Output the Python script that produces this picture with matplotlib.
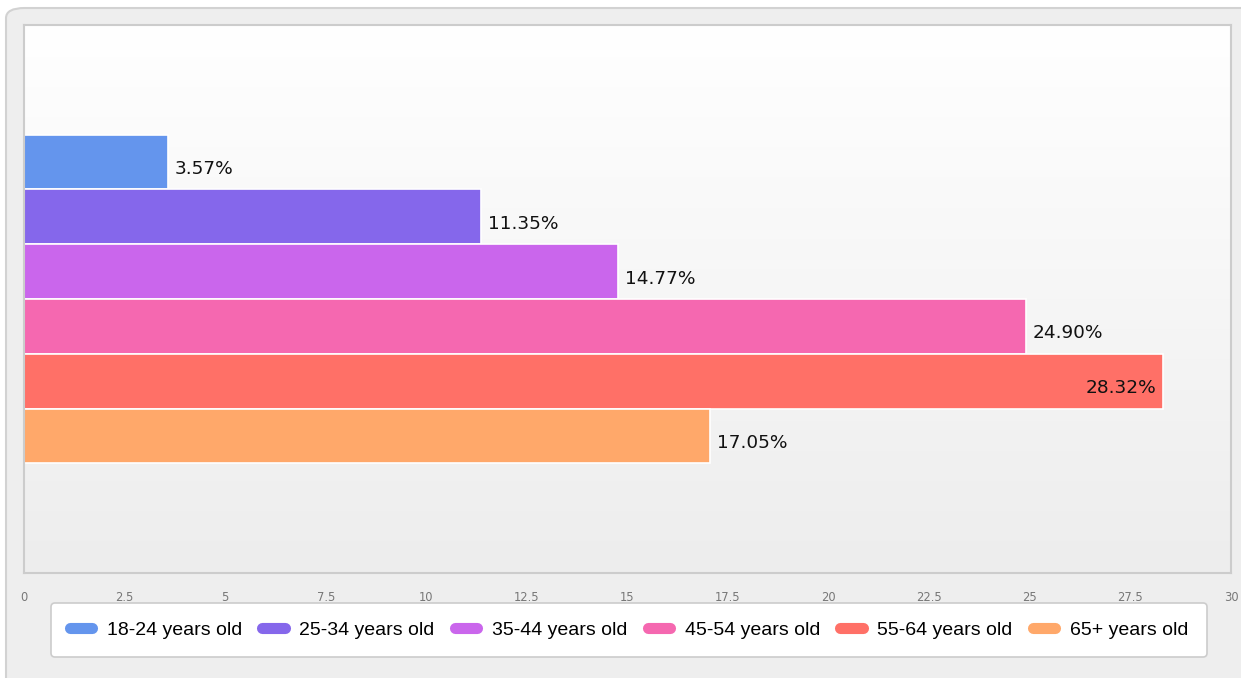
import numpy as np
import matplotlib
matplotlib.use("Agg")
from matplotlib import pyplot as plt
from matplotlib.patches import FancyBboxPatch
from matplotlib.lines import Line2D
from matplotlib.colors import LinearSegmentedColormap

groups = ["18-24 years old", "25-34 years old", "35-44 years old",
          "45-54 years old", "55-64 years old", "65+ years old"]
values = [3.57, 11.35, 14.77, 24.90, 28.32, 17.05]
colors = ["#6495ED", "#8567EB", "#CA66EC", "#F568B0", "#FF7067", "#FFA86A"]
xticks = [0, 2.5, 5, 7.5, 10, 12.5, 15, 17.5, 20, 22.5, 25, 27.5, 30]

W, H = 1241, 678
fig = plt.figure(figsize=(W / 100, H / 100), dpi=100)
fig.patch.set_facecolor("white")

# outer gray panel, top-left corner at (6, 8) px, runs off the right and bottom
panel = FancyBboxPatch((6 / W, -0.2), 1.2, 1.2 - 8 / H, boxstyle="round,pad=0,rounding_size=0.015",
                       transform=fig.transFigure, facecolor="#eeeeee",
                       edgecolor="#d2d2d2", linewidth=1.5, zorder=-10)
fig.patches.append(panel)

# plot area in pixels: left 24, right 1231, top 25, bottom 573
ax = fig.add_axes([24 / W, (H - 573) / H, (1231 - 24) / W, (573 - 25) / H])
ax.set_facecolor("none")

# vertical gradient background
grad = np.linspace(0, 1, 256).reshape(-1, 1)
cm = LinearSegmentedColormap.from_list("bg", ["#ffffff", "#ededed"])
ax.imshow(grad, aspect="auto", cmap=cm, extent=[0, 30, -0.5, 0.5], zorder=0)

n = len(values)
h = 0.6 / n
for i, (v, c) in enumerate(zip(values, colors)):
    y = 0.3 - h * (i + 0.5)
    ax.barh(y, v, height=h, color=c, edgecolor="white", linewidth=1.2, zorder=2)
    lab = "%.2f%%" % v
    if v > 27:
        ax.annotate(lab, (v, y), xytext=(-5, -5), textcoords="offset points",
                    ha="right", va="center", fontsize=13.3, color="#111111", zorder=3)
    else:
        ax.annotate(lab, (v, y), xytext=(5, -5), textcoords="offset points",
                    ha="left", va="center", fontsize=13.3, color="#111111", zorder=3)

ax.set_xlim(0, 30)
ax.set_ylim(-0.5, 0.5)
ax.set_yticks([])
ax.set_xticks(xticks)
ax.set_xticklabels([("%g" % t) for t in xticks], fontsize=8.3, color="#777777")
ax.tick_params(axis="x", length=0, pad=13)
for s in ax.spines.values():
    s.set_color("#cccccc")
    s.set_linewidth(1.5)

handles = [Line2D([0], [0], color=c, lw=8, solid_capstyle="round") for c in colors]
leg = fig.legend(handles, groups, loc="center", bbox_to_anchor=(629 / W, (H - 630) / H),
                 ncol=6, frameon=True, fancybox=True, handlelength=1.15, handletextpad=0.75,
                 columnspacing=1.05, borderpad=0.95,
                 prop={"family": "Liberation Sans", "size": 14})
leg.get_frame().set_edgecolor("#cccccc")
leg.get_frame().set_linewidth(1.2)
leg.get_frame().set_facecolor("white")
leg.get_frame().set_alpha(1)

fig.savefig("out.png", dpi=100)
